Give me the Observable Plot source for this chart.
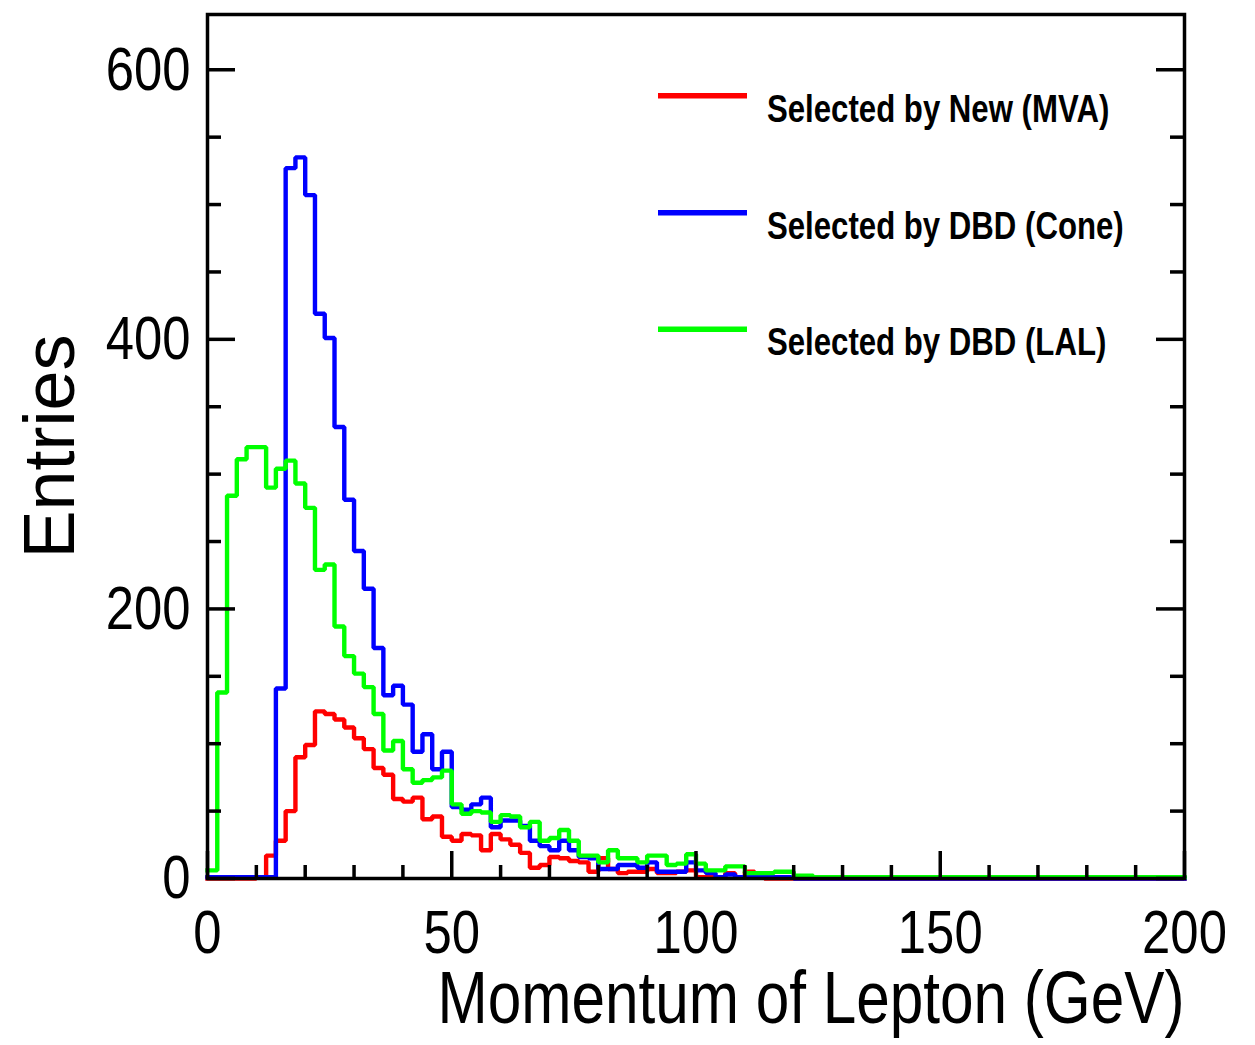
<!DOCTYPE html>
<html><head><meta charset="utf-8">
<script src="https://cdn.jsdelivr.net/npm/d3@7"></script>
<script src="https://cdn.jsdelivr.net/npm/@observablehq/plot@0.6"></script>
<style>
html,body{margin:0;padding:0;background:#fff;}
#chart{position:relative;width:1255px;height:1045px;}
</style></head><body><div id="chart"></div>
<script>
// ---- data (2 GeV bins, 0..200 GeV) ----
const binWidth = 2;
const xMax = 200;
const mva = [0,0,0,0,0,1,17,28,50,90,
  99,124,122,118,112,104,96,82,77,59,
  57,60,44,46,31,28,33,32,21,33,
  29,25,19,8,10,16,15,13,12,5,
  15,7,4,5,5,7,4,4,5,6,
  1,1,1,4,1,5,1,0,0,0,
  0,0,0,0,0,0,0,0,0,0,
  0,0,0,0,0,0,0,0,0,0,
  0,0,0,0,0,0,0,0,0,0,
  0,0,0,0,0,0,0,0,0,0];
const cone = [1,1,1,1,1,1,1,141,527,535,
  507,419,401,335,281,243,215,171,136,143,
  129,94,107,81,94,53,51,55,60,38,
  43,43,39,28,24,21,28,21,16,15,
  7,7,10,10,8,12,5,5,5,12,
  6,4,1,3,1,1,1,1,1,1,
  0,0,0,0,0,0,0,0,0,0,
  0,0,0,0,0,0,0,0,0,0,
  0,0,0,0,0,0,0,0,0,0,
  0,0,0,0,0,0,0,0,0,0];
const lal = [6,138,284,311,320,320,290,304,310,293,
  275,229,233,187,165,152,142,122,95,102,
  81,71,73,75,80,55,48,50,49,42,
  47,46,38,42,28,30,36,28,17,17,
  12,21,15,15,12,17,17,10,11,18,
  11,6,6,9,9,4,4,4,5,5,
  2,2,1,1,1,1,1,1,1,1,
  1,1,1,1,1,1,1,1,1,1,
  1,1,1,1,1,1,1,1,1,1,
  1,1,1,1,1,1,1,1,1,1];
const seriesNames = ["Selected by New (MVA)", "Selected by DBD (Cone)", "Selected by DBD (LAL)"];
const seriesColors = ["#ff0000", "#0000ff", "#00ff00"];
const xTicks = [0, 50, 100, 150, 200];
const xMinorTicks = [10,20,30,40,60,70,80,90,110,120,130,140,160,170,180,190];
const yTicks = [0, 200, 400, 600];
const yMinorTicks = [50,100,150,250,300,350,450,500,550];
const xTitle = "Momentum of Lepton (GeV)";
const yTitle = "Entries";

// ---- build step outlines ----
function steps(values) {
  const rows = values.map((v, i) => ({x: i * binWidth, y: v}));
  rows.push({x: xMax, y: values[values.length - 1]});
  return rows;
}
const series = [mva, cone, lal];

const W = 1255, H = 1045;
const mL = 207, mR = 71, mT = 14, mB = 167;
const pw = W - mL - mR, ph = H - mT - mB;
const font = "'Liberation Sans', Arial, Helvetica, sans-serif";

const plot = Plot.plot({
  width: W, height: H,
  marginLeft: mL, marginRight: mR, marginTop: mT, marginBottom: mB,
  x: {domain: [0, xMax]},
  y: {domain: [0, 641]},
  style: {fontFamily: font, fontSize: "62px", color: "black", background: "white", overflow: "visible"},
  marks: [
    ...series.map((s, k) => Plot.line(steps(s), {x: "x", y: "y", curve: "step-after",
      stroke: seriesColors[k], strokeWidth: 4.4, strokeLinejoin: "miter", strokeLinecap: "square"})),
    Plot.tickY(yTicks, {y: d => d, insetRight: pw - 28, stroke: "black", strokeWidth: 3.5}),
    Plot.tickY(yTicks, {y: d => d, insetLeft: pw - 28, stroke: "black", strokeWidth: 3.5}),
    Plot.tickY(yMinorTicks, {y: d => d, insetRight: pw - 14, stroke: "black", strokeWidth: 3.5}),
    Plot.tickY(yMinorTicks, {y: d => d, insetLeft: pw - 14, stroke: "black", strokeWidth: 3.5}),
    Plot.tickX(xTicks, {x: d => d, insetTop: ph - 27, stroke: "black", strokeWidth: 3.5}),
    Plot.tickX(xMinorTicks, {x: d => d, insetTop: ph - 13, stroke: "black", strokeWidth: 3.5}),
    Plot.frame({stroke: "black", strokeWidth: 3.5}),
    Plot.axisX(xTicks, {tickSize: 0, tickPadding: 30, label: null, fontSize: 62}),
    Plot.axisY(yTicks, {tickSize: 0, tickPadding: 17, label: null, fontSize: 62}),
    Plot.text([xTitle], {text: d => d, frameAnchor: "bottom-right", textAnchor: "end", lineAnchor: "middle", dy: 121, fontSize: 73.5}),
    Plot.text([yTitle], {text: d => d, frameAnchor: "left", textAnchor: "middle", lineAnchor: "middle", dx: -157, rotate: -90, fontSize: 72, className: "ytitle"})
  ]
});

document.getElementById("chart").append(plot);

// ---- legend ----
const svg = d3.select(plot);
const lg = svg.append("g").attr("class", "legend");
const legLineY = [95.7, 212.7, 329.3];
seriesNames.forEach((name, k) => {
  lg.append("line").attr("x1", 658).attr("x2", 747).attr("y1", legLineY[k]).attr("y2", legLineY[k])
    .attr("stroke", seriesColors[k]).attr("stroke-width", 5.5);
  lg.append("text").attr("x", 767).attr("y", legLineY[k] + 26)
    .attr("text-anchor", "start")
    .attr("font-family", font).attr("font-weight", "bold").attr("font-size", 38)
    .attr("fill", "black").text(name);
});

// ---- horizontal condensation of text (ROOT-style narrow look) ----
plot.querySelectorAll("text").forEach(t => {
  if (t.closest(".ytitle")) return;
  const len = t.getComputedTextLength();
  if (len > 0) {
    t.setAttribute("textLength", (len * 0.82).toFixed(1));
    t.setAttribute("lengthAdjust", "spacingAndGlyphs");
  }
});
</script></body></html>
